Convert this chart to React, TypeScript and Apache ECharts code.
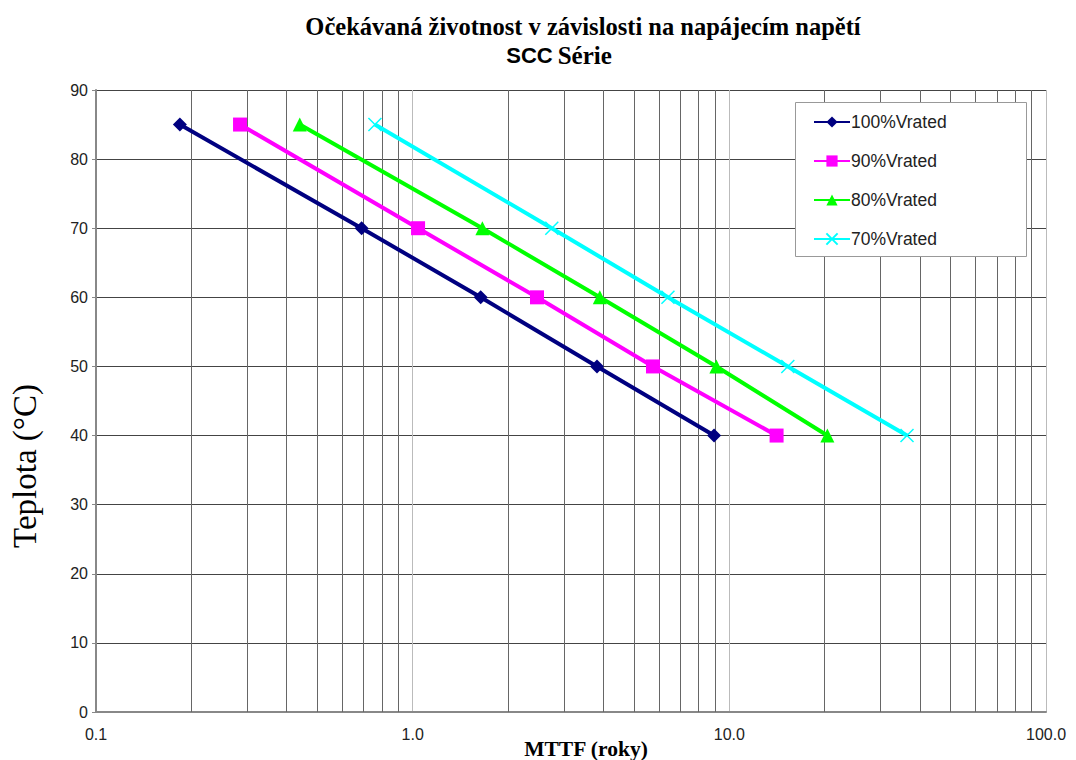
import React, { useEffect, useRef } from "react";
import * as echarts from "echarts";

const temps = [85, 70, 60, 50, 40];
const mttf100 = [0.184, 0.69, 1.64, 3.82, 8.95];
const mttf90 = [0.285, 1.04, 2.47, 5.74, 14.1];
const mttf80 = [0.44, 1.66, 3.9, 9.1, 20.4];
const mttf70 = [0.76, 2.75, 6.4, 15.3, 36.4];
const seriesNames = ["100%Vrated", "90%Vrated", "80%Vrated", "70%Vrated"];
const minorGrid = [0.2, 0.3, 0.4, 0.5, 0.6, 0.7, 0.8, 0.9, 2, 3, 4, 5, 6, 7, 8, 9, 20, 30, 40, 50, 60, 70, 80, 90];

const xSymbol = "path://M0,0L10,10M10,0L0,10";

export default function App() {
  const ref = useRef<HTMLDivElement>(null);
  useEffect(() => {
    const chart = echarts.init(ref.current!, null, { renderer: "svg" });
    const mk = (vals: number[]) => vals.map((v, i) => [v, temps[i]]);
    const series: any[] = [
      {
        name: seriesNames[0],
        type: "line",
        data: mk(mttf100),
        symbol: "diamond",
        symbolSize: 14,
        lineStyle: { color: "#000080", width: 4 },
        itemStyle: { color: "#000080" },
        z: 5,
        markLine: {
          silent: true,
          symbol: "none",
          label: { show: false },
          lineStyle: { color: "#666", width: 1, type: "solid" },
          data: minorGrid.map((v) => ({ xAxis: v })),
          z: 1,
        },
      },
      {
        name: seriesNames[1],
        type: "line",
        data: mk(mttf90),
        symbol: "rect",
        symbolSize: 14,
        lineStyle: { color: "#FF00FF", width: 4 },
        itemStyle: { color: "#FF00FF" },
        z: 5,
      },
      {
        name: seriesNames[2],
        type: "line",
        data: mk(mttf80),
        symbol: "triangle",
        symbolSize: 14,
        lineStyle: { color: "#00FF00", width: 4 },
        itemStyle: { color: "#00FF00" },
        z: 5,
      },
      {
        name: seriesNames[3],
        type: "line",
        data: mk(mttf70),
        symbol: xSymbol,
        symbolSize: 13,
        lineStyle: { color: "#00FFFF", width: 4 },
        itemStyle: { color: "#00FFFF", borderColor: "#00FFFF", borderWidth: 1.5 },
        z: 5,
      },
    ];
    chart.setOption({
      animation: false,
      backgroundColor: "#fff",
      title: [
        {
          text: "Očekávaná životnost v závislosti na napájecím napětí",
          left: 578,
          top: 9,
          textAlign: "center",
          textStyle: { fontFamily: "Liberation Serif", fontWeight: "bold", fontSize: 24.5, color: "#000" },
        },
        {
          text: "{a|SCC} {b|Série}",
          left: 554,
          top: 38,
          textAlign: "center",
          textStyle: {
            rich: {
              a: { fontFamily: "Liberation Sans", fontWeight: "bold", fontSize: 22, color: "#000" },
              b: { fontFamily: "Liberation Serif", fontWeight: "bold", fontSize: 25, color: "#000" },
            },
          },
        },
      ],
      graphic: [
        {
          type: "rect",
          shape: { x: 795.5, y: 102.5, width: 231, height: 154 },
          style: { fill: "#fff", stroke: "#999", lineWidth: 1 },
          z: 50,
        },
      ],
      legend: {
        orient: "vertical",
        left: 808,
        top: 108,
        itemWidth: 36,
        itemHeight: 14,
        itemGap: 21,
        z: 60,
        textStyle: { fontFamily: "Liberation Sans", fontSize: 17.5, color: "#222", padding: [0, 0, 0, -4] },
        data: seriesNames,
      },
      grid: { left: 96, right: 30, top: 90, bottom: 48, containLabel: false, outerBoundsMode: "none" },
      xAxis: {
        type: "log",
        logBase: 10,
        min: 0.1,
        max: 100,
        name: "MTTF (roky)",
        nameLocation: "middle",
        nameGap: 26,
        nameMoveOverlap: false,
        nameTextStyle: {
          fontFamily: "Liberation Serif",
          fontWeight: "bold",
          fontSize: 21.5,
          color: "#000",
          padding: [0, 0, 0, 30],
        },
        axisLine: { lineStyle: { color: "#888", width: 2 } },
        axisTick: { show: false },
        axisLabel: {
          formatter: (v: number) => v.toFixed(1),
          fontFamily: "Liberation Sans",
          fontSize: 16,
          color: "#222",
          margin: 14,
        },
        splitLine: { show: true, lineStyle: { color: "#bbb", width: 1 } },
      },
      yAxis: {
        type: "value",
        min: 0,
        max: 90,
        interval: 10,
        name: "Teplota (°C)",
        nameLocation: "middle",
        nameGap: 55,
        nameTextStyle: { fontFamily: "Liberation Serif", fontSize: 33, color: "#000", padding: [0, 130, 0, 0] },
        axisLine: { show: true, lineStyle: { color: "#888", width: 2 } },
        axisTick: { show: true, length: 4, lineStyle: { color: "#888" } },
        axisLabel: { fontFamily: "Liberation Sans", fontSize: 16, color: "#222", margin: 8 },
        splitLine: { show: true, lineStyle: { color: "#444", width: 1 } },
      },
      series,
    });
    return () => chart.dispose();
  }, []);
  return <div ref={ref} style={{ position: "absolute", left: 0, top: 0, width: 1076, height: 760 }} />;
}
